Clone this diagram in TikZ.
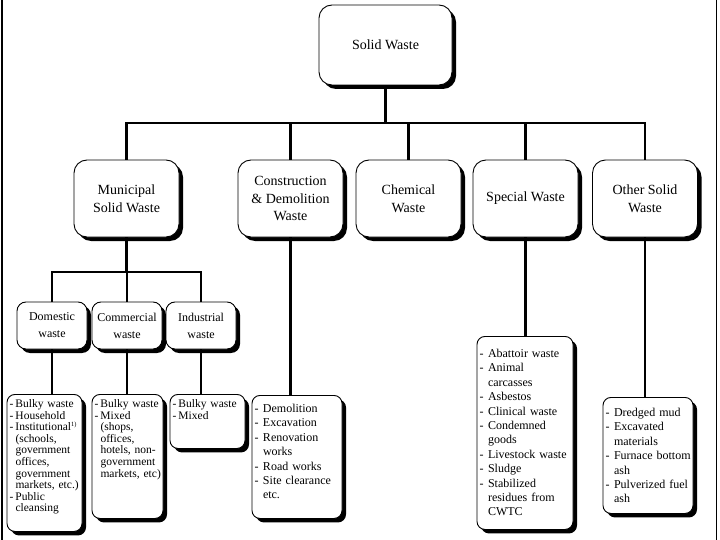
\documentclass[tikz,border=0pt]{standalone}
\usepackage{fontspec}
\setmainfont{Liberation Serif}
\usetikzlibrary{shadows}

\newlength{\itemind}
\newcommand{\itm}[1]{\makebox[\itemind][l]{-}\mbox{#1}}
\newcommand{\cont}[1]{\hspace*{\itemind}\mbox{#1}}

\tikzstyle{shadowed} = [drop shadow={shadow xshift=4pt, shadow yshift=-4pt, fill=black, opacity=1}]
\tikzstyle{root} = [draw, line width=0.9pt, rounded corners=13pt, fill=white, shadowed, minimum width=133pt, minimum height=80pt, font=\fontsize{14}{17.5}\selectfont]
\tikzstyle{kind} = [draw, line width=0.9pt, rounded corners=13pt, fill=white, shadowed, align=center, minimum width=105pt, minimum height=77pt, font=\fontsize{14}{17.5}\selectfont]
\tikzstyle{sub} = [draw, line width=0.9pt, rounded corners=9pt, fill=white, shadowed, align=center, minimum width=70pt, minimum height=47pt, font=\fontsize{12}{17}\selectfont]
\tikzstyle{items} = [draw, line width=0.9pt, rounded corners=8pt, fill=white, shadowed, anchor=north, align=left, inner sep=2.5pt]
\tikzstyle{munfont} = [font=\fontsize{11.5}{11.6}\selectfont\setlength{\itemind}{6pt}]
\tikzstyle{bigfont} = [font=\fontsize{12}{14.4}\selectfont\setlength{\itemind}{8.5pt}]
\tikzstyle{link} = [draw, line width=2.2pt]
\tikzstyle{border} = [draw, line width=1.8pt]

\begin{document}
\begin{tikzpicture}[x=1pt, y=-1pt]
    \useasboundingbox (0,0) rectangle (720,540);
    % page edges
    \draw[border] (2,0) -- (2,540);
    \draw[border] (716.5,0) -- (716.5,540);
    % First the root and the kinds of waste
    \node[root] (sw) at (385.5,45) {Solid Waste};
    \foreach \pos/\name/\txt in {{(126.5,198.5)/mun/{Municipal\\Solid Waste}},
            {(290.5,198.5)/cdw/{Construction\\\& Demolition\\Waste}},
            {(408.5,198.5)/chem/{Chemical\\Waste}},
            {(525.5,198.5)/spec/{Special Waste}},
            {(645,198.5)/oth/{Other Solid\\Waste}}}
        \node[kind] (\name) at \pos {\txt};
    \foreach \pos/\name/\txt in {{(52,325.5)/dom/{Domestic\\waste}},
            {(127,325.5)/com/{Commercial\\waste}},
            {(201,325.5)/ind/{Industrial\\waste}}}
        \node[sub] (\name) at \pos {\txt};
    % lists of what goes in each
    \node[items, munfont, text width=70pt, text height=10.5pt, text depth=121.5pt] (domi) at (44.5,394)
        {\itm{Bulky waste}\\\itm{Household}\\\itm{Institutional\smash{\raisebox{0.35em}{\fontsize{6.5}{6.5}\selectfont 1)}}}\\\cont{(schools,}\\
         \cont{government}\\\cont{offices,}\\\cont{government}\\\cont{markets, etc.)}\\\itm{Public}\\\cont{cleansing}};
    \node[items, munfont, text width=66pt, text height=10.5pt, text depth=108.5pt] (comi) at (127.5,394)
        {\itm{Bulky waste}\\\itm{Mixed}\\\cont{(shops,}\\\cont{offices,}\\\cont{hotels, non-}\\
         \cont{government}\\\cont{markets, etc)}};
    \node[items, munfont, text width=70pt, text height=10.5pt, text depth=38.5pt] (indi) at (207.5,394)
        {\itm{Bulky waste}\\\itm{Mixed}};
    \node[items, bigfont, text width=85pt, text height=14.5pt, text depth=103.5pt] (cdwi) at (297,395)
        {\itm{Demolition}\\\itm{Excavation}\\\itm{Renovation}\\\cont{works}\\\itm{Road works}\\
         \itm{Site clearance}\\\cont{etc.}};
    \node[items, bigfont, text width=91pt, text height=18.5pt, text depth=169.5pt] (speci) at (525,336)
        {\itm{Abattoir waste}\\\itm{Animal}\\\cont{carcasses}\\\itm{Asbestos}\\\itm{Clinical waste}\\
         \itm{Condemned}\\\cont{goods}\\\itm{Livestock waste}\\\itm{Sludge}\\\itm{Stabilized}\\
         \cont{residues from}\\\cont{CWTC}};
    \node[items, bigfont, text width=85pt, text height=16.5pt, text depth=94.5pt] (othi) at (648,397)
        {\itm{Dredged mud}\\\itm{Excavated}\\\cont{materials}\\\itm{Furnace bottom}\\\cont{ash}\\
         \itm{Pulverized fuel}\\\cont{ash}};
    % Connect the boxes
    \coordinate (bus) at (0,123);
    \coordinate (subbus) at (0,272);
    \path[link] (sw.south) -- (sw.south |- bus);
    \foreach \dest in {mun,cdw,chem,spec,oth}
        \path[link] (sw.south |- bus) -| (\dest.north);
    \path[link] (mun.south) -- (mun.south |- subbus);
    \foreach \dest in {dom,com,ind}
        \path[link] (mun.south |- subbus) -| (\dest.north);
    \foreach \source/\dest in {dom/domi,com/comi,ind/indi,cdw/cdwi,spec/speci,oth/othi}
        \path[link] (\source.south) -- (\source.south |- \dest.north);
\end{tikzpicture}
\end{document}
